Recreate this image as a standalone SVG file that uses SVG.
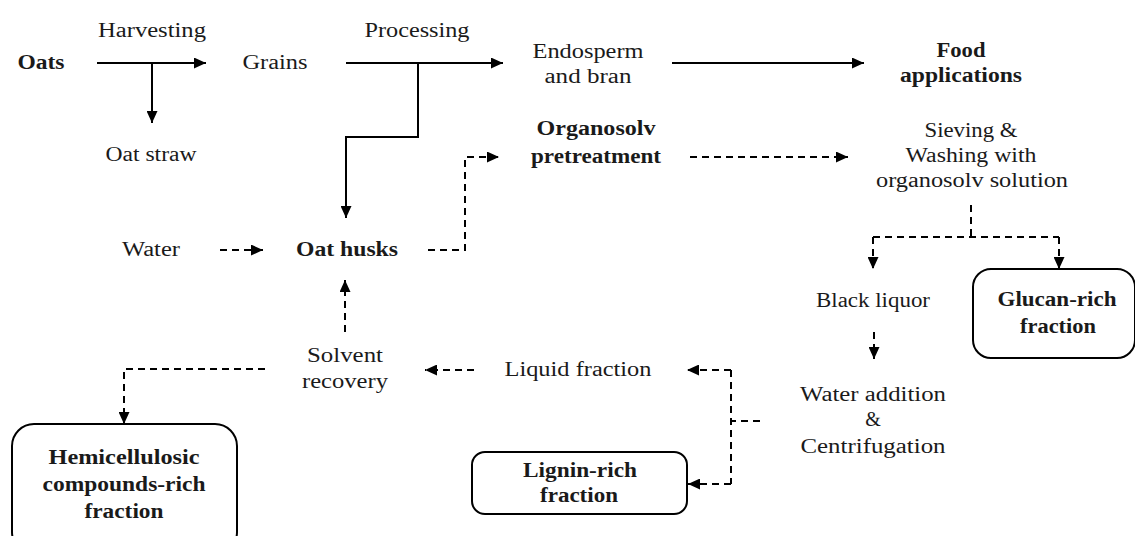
<svg xmlns="http://www.w3.org/2000/svg" width="1135" height="536" viewBox="0 0 1135 536">
<style>
text{font-family:"Liberation Serif","Times New Roman",serif;font-size:20px;fill:#1a1a1a;text-anchor:middle}
.b{font-weight:bold}
.s{fill:none;stroke:#000;stroke-width:2}
.d{fill:none;stroke:#000;stroke-width:2;stroke-dasharray:7 5}
.box{fill:#fff;stroke:#000;stroke-width:2}
</style>
<defs>
<marker id="ah" markerUnits="userSpaceOnUse" markerWidth="13" markerHeight="11" refX="12" refY="5.5" orient="auto">
<path d="M0,0 L12,5.5 L0,11 z" fill="#000"/>
</marker>
</defs>
<g id="connectors">
<path class="s" d="M97 63 H206" marker-end="url(#ah)"/>
<path class="s" d="M152 63 V123" marker-end="url(#ah)"/>
<path class="s" d="M346 63 H503" marker-end="url(#ah)"/>
<path class="s" d="M418 63 V137 H346 V218" marker-end="url(#ah)"/>
<path class="s" d="M672 63 H864" marker-end="url(#ah)"/>
<path class="d" d="M220 250 H263" marker-end="url(#ah)"/>
<path class="d" d="M428 250 H465 V157 H499" marker-end="url(#ah)"/>
<path class="d" d="M690 157 H848" marker-end="url(#ah)"/>
<path class="d" d="M971 205 V237"/>
<path class="d" d="M873 237 H1059"/>
<path class="d" d="M873 237 V269" marker-end="url(#ah)"/>
<path class="d" d="M1059 237 V269" marker-end="url(#ah)"/>
<path class="d" d="M874 332 V359" marker-end="url(#ah)"/>
<path class="d" d="M760 421 H731"/>
<path class="d" d="M731 370 V484"/>
<path class="d" d="M731 370 H687" marker-end="url(#ah)"/>
<path class="d" d="M731 484 H688" marker-end="url(#ah)"/>
<path class="d" d="M474 370 H425" marker-end="url(#ah)"/>
<path class="d" d="M345 332 V280" marker-end="url(#ah)"/>
<path class="d" d="M265 369 H124 V424" marker-end="url(#ah)"/>
</g>
<g id="oats"><text class="b" x="41" y="69" textLength="47" lengthAdjust="spacingAndGlyphs">Oats</text></g>
<g id="harvesting"><text x="152" y="37" textLength="108" lengthAdjust="spacingAndGlyphs">Harvesting</text></g>
<g id="grains"><text x="275" y="69" textLength="65" lengthAdjust="spacingAndGlyphs">Grains</text></g>
<g id="processing"><text x="417" y="37" textLength="105" lengthAdjust="spacingAndGlyphs">Processing</text></g>
<g id="oat-straw"><text x="151" y="161" textLength="91" lengthAdjust="spacingAndGlyphs">Oat straw</text></g>
<g id="endosperm">
<text x="588" y="58" textLength="111" lengthAdjust="spacingAndGlyphs">Endosperm</text>
<text x="588" y="83" textLength="87" lengthAdjust="spacingAndGlyphs">and bran</text>
</g>
<g id="food">
<text class="b" x="961" y="57" textLength="49" lengthAdjust="spacingAndGlyphs">Food</text>
<text class="b" x="961" y="82" textLength="122" lengthAdjust="spacingAndGlyphs">applications</text>
</g>
<g id="organosolv">
<text class="b" x="596" y="135" textLength="119" lengthAdjust="spacingAndGlyphs">Organosolv</text>
<text class="b" x="596" y="163" textLength="130" lengthAdjust="spacingAndGlyphs">pretreatment</text>
</g>
<g id="sieving">
<text x="971" y="137" textLength="93" lengthAdjust="spacingAndGlyphs">Sieving &amp;</text>
<text x="971" y="162" textLength="131" lengthAdjust="spacingAndGlyphs">Washing with</text>
<text x="972" y="187" textLength="192" lengthAdjust="spacingAndGlyphs">organosolv solution</text>
</g>
<g id="water"><text x="151" y="256" textLength="58" lengthAdjust="spacingAndGlyphs">Water</text></g>
<g id="oat-husks"><text class="b" x="347" y="256" textLength="102" lengthAdjust="spacingAndGlyphs">Oat husks</text></g>
<g id="black-liquor"><text x="873" y="307" textLength="114" lengthAdjust="spacingAndGlyphs">Black liquor</text></g>
<g id="glucan">
<rect class="box" x="973" y="269" width="162" height="89" rx="18"/>
<text class="b" x="1057" y="306" textLength="119" lengthAdjust="spacingAndGlyphs">Glucan-rich</text>
<text class="b" x="1058" y="333" textLength="76" lengthAdjust="spacingAndGlyphs">fraction</text>
</g>
<g id="solvent">
<text x="345" y="362" textLength="76" lengthAdjust="spacingAndGlyphs">Solvent</text>
<text x="345" y="388" textLength="86" lengthAdjust="spacingAndGlyphs">recovery</text>
</g>
<g id="liquid"><text x="578" y="376" textLength="147" lengthAdjust="spacingAndGlyphs">Liquid fraction</text></g>
<g id="water-addition">
<text x="873" y="401" textLength="146" lengthAdjust="spacingAndGlyphs">Water addition</text>
<text x="873" y="426">&amp;</text>
<text x="873" y="453" textLength="145" lengthAdjust="spacingAndGlyphs">Centrifugation</text>
</g>
<g id="hemicellulosic">
<rect class="box" x="12" y="424" width="225" height="130" rx="22"/>
<text class="b" x="124" y="464" textLength="151" lengthAdjust="spacingAndGlyphs">Hemicellulosic</text>
<text class="b" x="124" y="491" textLength="163" lengthAdjust="spacingAndGlyphs">compounds-rich</text>
<text class="b" x="124" y="518" textLength="79" lengthAdjust="spacingAndGlyphs">fraction</text>
</g>
<g id="lignin">
<rect class="box" x="472" y="452" width="215" height="62" rx="13"/>
<text class="b" x="580" y="477" textLength="114" lengthAdjust="spacingAndGlyphs">Lignin-rich</text>
<text class="b" x="579" y="502" textLength="78" lengthAdjust="spacingAndGlyphs">fraction</text>
</g>
</svg>
